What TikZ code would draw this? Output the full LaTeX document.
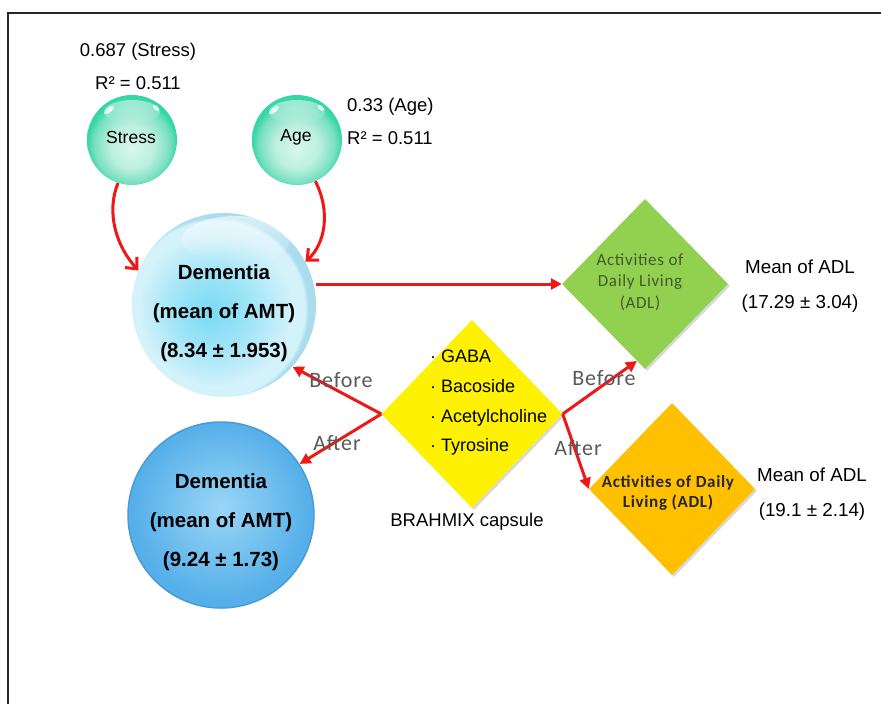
\documentclass[tikz,border=0pt]{standalone}
\usepackage{fontspec}
\setmainfont{Liberation Sans}
\newfontfamily\calib[LetterSpace=4]{Carlito}
\usetikzlibrary{arrows.meta,shapes.geometric,shadows,fadings}
\definecolor{arrred}{RGB}{238,24,24}
\definecolor{mintC}{HTML}{D8F7EC}
\definecolor{mintM}{HTML}{BDF0DE}
\definecolor{mintE}{HTML}{78E0C0}
\definecolor{mintR}{HTML}{36D6A6}
\definecolor{cyC}{HTML}{78DAF4}
\definecolor{cyM}{HTML}{A2E5F7}
\definecolor{cyE}{HTML}{D4F2FA}
\definecolor{cyR}{HTML}{A9DDEE}
\definecolor{bluC}{HTML}{9AD6F6}
\definecolor{bluE}{HTML}{55AFE9}
\definecolor{bluR}{HTML}{4A9BD6}
\definecolor{ygreen}{HTML}{92D050}
\definecolor{yorange}{HTML}{FFC000}
\definecolor{greentxt}{HTML}{44582F}
\definecolor{labgray}{HTML}{595959}
\pgfdeclareradialshading{mintbub}{\pgfpoint{0bp}{-5bp}}{color(0bp)=(mintC); color(12bp)=(mintM); color(21bp)=(mintE); color(25bp)=(mintR); color(50bp)=(mintR)}
\pgfdeclareradialshading{dembub}{\pgfpoint{-4bp}{-2bp}}{color(0bp)=(cyC); color(11bp)=(cyM); color(21bp)=(cyE); color(24bp)=(cyE); color(25bp)=(cyR); color(50bp)=(cyR)}
\pgfdeclareradialshading{dembub2}{\pgfpoint{0bp}{2bp}}{color(0bp)=(bluC); color(24bp)=(bluE); color(25bp)=(bluE); color(50bp)=(bluE)}
\tikzset{
  frameline/.style={line width=2pt, black!85},
  arr/.style={draw=arrred, line width=3pt, -{Triangle[length=11pt,width=11pt]}},
  carr/.style={draw=arrred, line width=3pt, -{Straight Barb[length=9pt,width=16pt,line width=3pt]}},
  sphere/.style={circle, inner sep=0pt, shade},
  dtext/.style={align=center, font=\bfseries\fontsize{20.5}{39}\selectfont, inner sep=0pt},
  btext/.style={font=\fontsize{17.5}{17.5}\selectfont, inner sep=0pt},
  lbl/.style={font=\fontsize{18.5}{33}\selectfont, inner sep=0pt, align=center},
  adl/.style={font=\fontsize{18.8}{35}\selectfont, inner sep=0pt, align=center},
  ba/.style={font=\calib\fontsize{22}{22}\selectfont, text=labgray, inner sep=0pt},
  dia/.style={diamond, inner sep=0pt, drop shadow={opacity=0.3, shadow xshift=2pt, shadow yshift=-2pt}},
  spot/.style={white, opacity=0.8},
}
\begin{document}
\begin{tikzpicture}[x=1pt,y=-1pt]
\useasboundingbox (0,0) rectangle (881,704);
\draw[frameline] (8,704) -- (8,13) -- (881,13);

% top labels
\node[lbl] (stresslbl) at (138,66) {0.687 (Stress)\\R² = 0.511};
\node[lbl, align=left, anchor=west] (agelbl) at (347,121) {0.33 (Age)\\R² = 0.511};

% small spheres
\node[sphere, shading=mintbub, minimum size=90pt] (stress) at (132,140) {};
\node[sphere, shading=mintbub, minimum size=90pt] (age) at (297,140) {};
\fill[white, path fading=south, opacity=0.5] (132,112) ellipse (28pt and 12pt);
\fill[white, path fading=south, opacity=0.5] (297,112) ellipse (28pt and 12pt);
\fill[spot, rotate around={40:(109,110)}] (109,110) ellipse (6pt and 2.5pt);
\fill[spot, rotate around={-40:(156,108)}] (156,108) ellipse (4pt and 2pt);
\fill[spot, rotate around={40:(274,110)}] (274,110) ellipse (6pt and 2.5pt);
\fill[spot, rotate around={-40:(321,108)}] (321,108) ellipse (4pt and 2pt);
\node[btext] (stresstxt) at (131,137) {Stress};
\node[btext] (agetxt) at (296,137) {Age};

% big spheres
\node[sphere, shading=dembub, minimum size=184pt] (dem1) at (224,305) {};
\fill[white, path fading=south, opacity=0.55] (236,240) ellipse (54pt and 24pt);
\node[dtext] (dem1txt) at (224,313) {Dementia\\(mean of AMT)\\(8.34 ± 1.953)};

\node[sphere, shading=dembub2, minimum size=186pt, draw=bluR, line width=1.5pt] (dem2) at (221,515) {};
\node[dtext] (dem2txt) at (221,522) {Dementia\\(mean of AMT)\\(9.24 ± 1.73)};

% diamonds
\node[dia, fill=yellow, minimum width=181pt, minimum height=188pt] (yel) at (472,414) {};
\node[dia, fill=ygreen, minimum width=166pt, minimum height=170pt] (green) at (645,284) {};
\node[dia, fill=yorange, minimum width=166pt, minimum height=172pt] (orange) at (672,489) {};

\node[font=\fontsize{18}{29.7}\selectfont, align=left, anchor=west, inner sep=0pt] (yeltxt) at (430,403)
  {·\hspace{5pt}GABA\\·\hspace{5pt}Bacoside\\·\hspace{5pt}Acetylcholine\\·\hspace{5pt}Tyrosine};
\node[font=\fontsize{18.5}{18.5}\selectfont, inner sep=0pt] (brahmix) at (467,522) {BRAHMIX capsule};

\node[font=\calib\fontsize{17}{21.5}\selectfont, text=greentxt, align=center, inner sep=0pt] (greentxtn) at (640,282)
  {Activities of\\Daily Living\\(ADL)};
\node[font=\calib\bfseries\fontsize{17}{20.5}\selectfont, text=black!85, align=center, inner sep=0pt] (orangetxt) at (668,493)
  {Activities of Daily\\Living (ADL)};

\node[adl] (adl1) at (800,286) {Mean of ADL\\(17.29 ± 3.04)};
\node[adl] (adl2) at (812,494) {Mean of ADL\\(19.1 ± 2.14)};

% connectors
\draw[carr] (stress.252) .. controls (106,212) and (116,246) .. (dem1.158);
\draw[carr] (age.294) .. controls (331,212) and (325,244) .. (dem1.28);
\draw[arr] (green.west -| dem1.east) -- (green.west);
\draw[arr] (yel.west) -- (dem1.-42);
\draw[arr] (yel.west) -- (dem2.33);
\draw[arr] (yel.east) -- (green.264);
\draw[arr] (yel.east) -- (orange.west);

% before/after labels
\node[ba] (bef1) at (341,380) {Before};
\node[ba] (aft1) at (337,443) {After};
\node[ba] (bef2) at (604,378) {Before};
\node[ba] (aft2) at (578,448) {After};
\end{tikzpicture}
\end{document}
